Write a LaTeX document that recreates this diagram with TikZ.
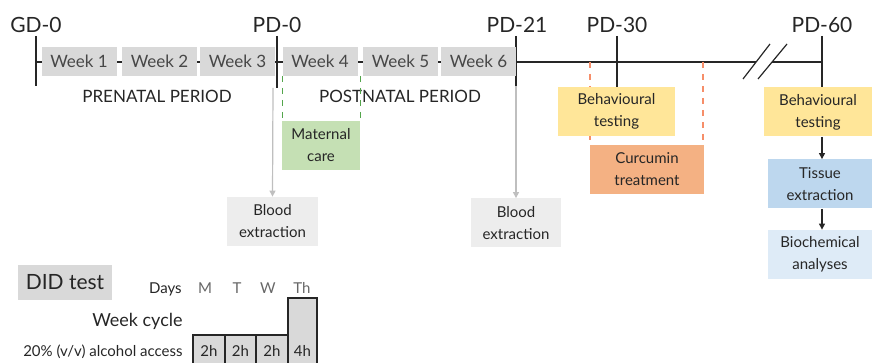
\documentclass[tikz,border=0pt]{standalone}
\usepackage{fontspec}
\setmainfont{Lato}
\usepackage{tikz}
\usetikzlibrary{positioning}
\usetikzlibrary{arrows.meta}

\definecolor{weekgray}{HTML}{D9D9D9}
\definecolor{bloodgray}{HTML}{EDEDED}
\definecolor{maternalgreen}{HTML}{C5E0B4}
\definecolor{behavyellow}{HTML}{FFE699}
\definecolor{curcuminorange}{HTML}{F4B183}
\definecolor{tissueblue}{HTML}{BDD7EE}
\definecolor{biochemblue}{HTML}{DEEBF7}
\definecolor{txt}{HTML}{262626}

\begin{document}
\begin{tikzpicture}[x=0.5pt,y=-0.5pt,
    daylabel/.style={font=\fontsize{10.5}{12}\selectfont,inner sep=0pt,anchor=base,text=txt},
    weekbox/.style={fill=weekgray,minimum width=37.5pt,minimum height=14.5pt,inner sep=0pt,
      font=\fontsize{8.5}{10}\selectfont,text=txt!85},
    stepbox/.style={minimum height=24.5pt,inner sep=0pt,align=center,
      font=\fontsize{7.5}{11}\selectfont,text=txt},
    small/.style={inner sep=0pt,anchor=base east,text=txt},
    tip/.style={-{Triangle[length=3pt,width=3pt]}}]
  \useasboundingbox (0,0) rectangle (873,363);

  % time line
  \draw[line width=0.6pt,txt] (36,62) -- (516,62);
  \draw[line width=1pt,txt] (516,62) -- (756,62);
  \draw[line width=1pt,txt] (772,62) -- (822,62);
  \draw[line width=0.6pt,txt] (743,79) -- (770,44);
  \draw[line width=0.6pt,txt] (758,79) -- (787,44);

  % day labels and ticks
  \node[daylabel] (gd0) at (36,33) {GD-0};
  \node[daylabel] (pd0) at (277,33) {PD-0};
  \node[daylabel] (pd21) at (517,33) {PD-21};
  \node[daylabel] (pd30) at (617,33) {PD-30};
  \node[daylabel] (pd60) at (822,33) {PD-60};
  \draw[line width=0.8pt,txt] (36,36) -- (36,86);
  \draw[line width=0.8pt,txt] (277,36) -- (277,88);
  \draw[line width=0.8pt,txt] (516,36) -- (516,86);
  \draw[line width=0.6pt,txt] (617,36) -- (617,88);
  \draw[line width=0.6pt,txt] (822,36) -- (822,88);

  % weeks
  \foreach \i/\x in {1/79,2/159.5,3/237.5,4/320,5/400.5,6/478.5}
    \node[weekbox] (w\i) at (\x,61.5) {Week \i};

  \node[anchor=base,inner sep=0pt,font=\fontsize{8.5}{10}\selectfont,text=txt] (pre) at (157,103) {PRENATAL PERIOD};
  \node[anchor=base,inner sep=0pt,font=\fontsize{8.5}{10}\selectfont,text=txt] (post) at (400,103) {POSTNATAL PERIOD};

  % maternal care
  \draw[dashed,maternalgreen!60!green!70!black,line width=0.5pt] (282,76) -- (282,121);
  \draw[dashed,maternalgreen!60!green!70!black,line width=0.5pt] (360,76) -- (360,121);
  \node[stepbox,fill=maternalgreen,minimum width=39pt] (mat) at (321,145.5) {Maternal\\care};

  % blood extraction
  \node[stepbox,fill=bloodgray,minimum width=45.5pt] (blood1) at (272.5,221.5) {Blood\\extraction};
  \node[stepbox,fill=bloodgray,minimum width=45pt] (blood2) at (516,223) {Blood\\extraction};
  \coordinate (b1top) at (273,88);
  \coordinate (b2top) at (516,86);
  \draw[tip,black!25,line width=0.6pt] (b1top) -- (blood1.north);
  \draw[tip,black!25,line width=0.6pt] (b2top) -- (blood2.north);

  % curcumin window
  \draw[dashed,curcuminorange!80!red,line width=0.6pt] (590,62) -- (590,145);
  \draw[dashed,curcuminorange!80!red,line width=0.6pt] (703,62) -- (703,145);
  \node[stepbox,fill=behavyellow,minimum width=58.5pt] (behav1) at (616.5,111.5) {Behavioural\\testing};
  \node[stepbox,fill=curcuminorange,minimum width=57pt] (curc) at (647,169.5) {Curcumin\\treatment};

  % end of experiment
  \node[stepbox,fill=behavyellow,minimum width=54pt] (behav2) at (818,112) {Behavioural\\testing};
  \node[stepbox,fill=tissueblue,minimum width=52pt] (tissue) at (820,184) {Tissue\\extraction};
  \node[stepbox,fill=biochemblue,minimum width=52pt] (biochem) at (820,254.5) {Biochemical\\analyses};
  \draw[tip,txt,line width=0.6pt] (behav2.south -| 822,0) -- (tissue.north -| 822,0);
  \draw[tip,txt,line width=0.6pt] (tissue.south -| 822,0) -- (biochem.north -| 822,0);

  % DID test
  \node[fill=weekgray,minimum width=47pt,minimum height=17.5pt,inner sep=0pt,
    font=\fontsize{10.5}{12}\selectfont,text=txt] (did) at (65,282.5) {DID test};
  \node[small,font=\fontsize{7.5}{9}\selectfont] (days) at (182,294) {Days};
  \node[anchor=base,inner sep=0pt,font=\fontsize{7.5}{9}\selectfont,text=txt!70] (mo) at (205,294) {M};
  \node[anchor=base,inner sep=0pt,font=\fontsize{7.5}{9}\selectfont,text=txt!70] (tu) at (237,294) {T};
  \node[anchor=base,inner sep=0pt,font=\fontsize{7.5}{9}\selectfont,text=txt!70] (we) at (268,294) {W};
  \node[anchor=base,inner sep=0pt,font=\fontsize{7.5}{9}\selectfont,text=txt!70] (th) at (302,294) {Th};
  \node[small,font=\fontsize{9}{10}\selectfont] (cycle) at (183,327) {Week cycle};
  \node[small,font=\fontsize{7.5}{9}\selectfont] (access) at (183,357) {20\% (v/v) alcohol access};

  \draw[fill=weekgray,draw=txt,line width=0.6pt] (193,335) rectangle (225,364);
  \draw[fill=weekgray,draw=txt,line width=0.6pt] (225,335) rectangle (256,364);
  \draw[fill=weekgray,draw=txt,line width=0.6pt] (256,335) rectangle (288,364);
  \draw[fill=weekgray,draw=txt,line width=0.6pt] (288,298) rectangle (317,364);
  \node[anchor=base,inner sep=0pt,font=\fontsize{7.5}{9}\selectfont,text=txt] (h1) at (209,357) {2h};
  \node[anchor=base,inner sep=0pt,font=\fontsize{7.5}{9}\selectfont,text=txt] (h2) at (240.5,357) {2h};
  \node[anchor=base,inner sep=0pt,font=\fontsize{7.5}{9}\selectfont,text=txt] (h3) at (272,357) {2h};
  \node[anchor=base,inner sep=0pt,font=\fontsize{7.5}{9}\selectfont,text=txt] (h4) at (302.5,357) {4h};
\end{tikzpicture}
\end{document}
